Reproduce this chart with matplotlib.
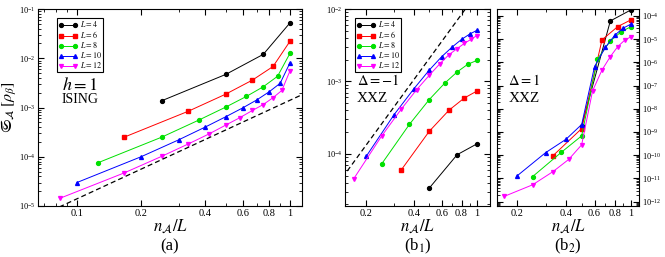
import matplotlib
matplotlib.use('Agg')
import matplotlib.pyplot as plt
from matplotlib.ticker import FixedLocator, FixedFormatter, LogLocator, NullFormatter
import numpy as np

plt.rcParams['font.family'] = ['Liberation Serif', 'DejaVu Serif']
plt.rcParams['mathtext.fontset'] = 'stix'

L_values = [4, 6, 8, 10, 12]
colors = ['black', 'red', '#00e000', 'blue', 'magenta']
markers = ['o', 's', 'o', '^', 'v']

# panel (a): Ising h=1, x = n/L (last points end at n = L)
ising = {
    4: [1.37e-3, 4.7e-3, 1.2e-2, 5.2e-2],
    6: [2.5e-4, 8.4e-4, 1.87e-3, 3.6e-3, 6.8e-3, 2.2e-2],
    8: [7.5e-5, 2.5e-4, 5.6e-4, 1.02e-3, 1.68e-3, 2.64e-3, 4.3e-3, 1.25e-2],
    10: [3.0e-5, 1.0e-4, 2.2e-4, 4.0e-4, 6.5e-4, 9.8e-4, 1.43e-3, 2.09e-3, 3.1e-3, 8.0e-3],
    12: [1.44e-5, 4.7e-5, 1.02e-4, 1.82e-4, 2.9e-4, 4.4e-4, 6.25e-4, 8.7e-4,
         1.15e-3, 1.58e-3, 2.22e-3, 5.5e-3],
}

# panel (b1): XXZ Delta=-1
xxz_m1 = {
    4: [3.35e-5, 9.7e-5, 1.37e-4],
    6: [6.0e-5, 2.04e-4, 4.0e-4, 5.9e-4, 7.35e-4],
    8: [7.2e-5, 2.55e-4, 5.6e-4, 9.4e-4, 1.35e-3, 1.72e-3, 1.95e-3],
    10: [9.2e-5, 3.47e-4, 7.9e-4, 1.43e-3, 2.2e-3, 3.0e-3, 3.8e-3, 4.5e-3, 5.07e-3],
    12: [4.5e-5, 1.75e-4, 4.15e-4, 7.7e-4, 1.21e-3, 1.75e-3, 2.34e-3, 2.83e-3,
         3.35e-3, 3.8e-3, 4.3e-3],
}

# panel (b2): XXZ Delta=1
xxz_p1 = {
    4: [1.8e-9, 6.1e-5, 1.8e-4],
    6: [9.5e-11, 1.4e-9, 9.3e-6, 3.5e-5, 6.7e-5],
    8: [1.2e-11, 1.33e-10, 6.8e-10, 1.4e-6, 8.3e-6, 2.1e-5, 3.4e-5],
    10: [1.26e-11, 1.28e-10, 4.8e-10, 2.1e-9, 6.6e-7, 4.5e-6, 1.5e-5, 3.0e-5, 4.4e-5],
    12: [1.66e-12, 5.3e-12, 1.96e-11, 6.6e-11, 2.8e-10, 5.9e-8, 4.7e-7, 1.77e-6,
         4.8e-6, 8.9e-6, 1.25e-5],
}

# dashed guide lines  c * x^p
guide_a = (1.4e-3, 2)
guide_b1 = (1.65e-2, 3)


def xs_for(L, vals):
    n = np.arange(L - len(vals) + 1, L + 1)
    return n / L


def style_axis(ax, xlim, ylim):
    ax.set_xscale('log')
    ax.set_yscale('log')
    ax.set_xlim(*xlim)
    ax.set_ylim(*ylim)
    ax.tick_params(which='both', direction='in', top=True, right=True, labelsize=7.5, pad=2)
    ax.tick_params(which='major', length=4)
    ax.tick_params(which='minor', length=2)
    ax.tick_params(axis='y', labelsize=6)
    for s in ax.spines.values():
        s.set_linewidth(0.8)
    ax.set_xlabel(r'$n_{\mathcal{A}}/L$', fontsize=12)
    ax.xaxis.set_label_coords(0.5, -0.06)
    ax.xaxis.label.set_va('top')


def x_ticks(ax, major, labels, minor):
    ax.xaxis.set_major_locator(FixedLocator(major))
    ax.xaxis.set_major_formatter(FixedFormatter(labels))
    ax.xaxis.set_minor_locator(FixedLocator(minor))
    ax.xaxis.set_minor_formatter(NullFormatter())


def draw(ax, data):
    for L, c, m in zip(L_values, colors, markers):
        vals = data[L]
        ax.plot(xs_for(L, vals), vals, color=c, marker=m, ms=2.8, lw=0.7, label=f'$L = {L}$')


def add_legend(ax, anchor):
    ax.legend(loc='upper left', bbox_to_anchor=anchor, fontsize=5.8, frameon=True,
              fancybox=False, edgecolor='black', framealpha=1, handlelength=2.3, numpoints=2,
              borderpad=0.2, labelspacing=0.0, handletextpad=0.3, borderaxespad=0.0,
              handleheight=0.6)
    ax.get_legend().get_frame().set_linewidth(0.8)


fig = plt.figure(figsize=(6.65, 2.57), dpi=100)
H = 257.0
W = 665.0
bottom = 1 - 206 / H
height = (206 - 9) / H
ax_a = fig.add_axes([38 / W, bottom, 264 / W, height])
ax_b1 = fig.add_axes([345 / W, bottom, 145 / W, height])
ax_b2 = fig.add_axes([497 / W, bottom, 142 / W, height])

# (a)
draw(ax_a, ising)
xg = np.array([0.06, 1.2])
ax_a.plot(xg, guide_a[0] * xg ** guide_a[1], color='black', lw=0.9, dashes=(4, 2.5))
style_axis(ax_a, (0.0656, 1.14), (1e-5, 1e-1))
x_ticks(ax_a, [0.1, 0.2, 0.4, 0.6, 0.8, 1.0], ['0.1', '0.2', '0.4', '0.6', '0.8', '1'],
        [0.07, 0.08, 0.09, 0.3, 0.5, 0.7, 0.9])
ax_a.set_ylabel(r'$\mathfrak{S}_{\mathcal{A}}\,[\rho_\beta]$', fontsize=11.5)
ax_a.yaxis.set_label_coords(-0.072, 0.5)
add_legend(ax_a, (0.072, 0.955))
ax_a.text(0.09, 0.614, r'$h=1$', transform=ax_a.transAxes, fontsize=13, va='center')
ax_a.text(0.09, 0.543, 'ISING', transform=ax_a.transAxes, fontsize=10, va='center')
fig.text(170 / W, 1 - 246 / H, '(a)', ha='center', va='center', fontsize=12)

# (b1)
draw(ax_b1, xxz_m1)
xg = np.array([0.1, 1.3])
ax_b1.plot(xg, guide_b1[0] * xg ** guide_b1[1], color='black', lw=0.9, dashes=(4, 2.5))
style_axis(ax_b1, (0.147, 1.21), (1.9e-5, 1e-2))
x_ticks(ax_b1, [0.2, 0.4, 0.6, 0.8, 1.0], ['0.2', '0.4', '0.6', '0.8', '1'], [0.3, 0.5, 0.7, 0.9])
add_legend(ax_b1, (0.07, 0.955))
ax_b1.text(0.08, 0.635, r'$\Delta=-1$', transform=ax_b1.transAxes, fontsize=10.5, va='center')
ax_b1.text(0.08, 0.548, 'XXZ', transform=ax_b1.transAxes, fontsize=11, va='center')
fig.text(418 / W, 1 - 246 / H, r'(b$_1$)', ha='center', va='center', fontsize=12)

# (b2)
draw(ax_b2, xxz_p1)
style_axis(ax_b2, (0.151, 1.125), (10 ** -12.19, 10 ** -3.7))
x_ticks(ax_b2, [0.2, 0.4, 0.6, 0.8, 1.0], ['0.2', '0.4', '0.6', '0.8', '1'], [0.3, 0.5, 0.7, 0.9])
ax_b2.yaxis.set_major_locator(LogLocator(base=10, numticks=20))
ax_b2.yaxis.set_minor_locator(LogLocator(base=10, subs=np.arange(2, 10) * 0.1, numticks=20))
ax_b2.yaxis.set_minor_formatter(NullFormatter())
ax_b2.tick_params(axis='y', labelleft=False, labelright=True)
ax_b2.text(0.08, 0.635, r'$\Delta=1$', transform=ax_b2.transAxes, fontsize=10.5, va='center')
ax_b2.text(0.08, 0.548, 'XXZ', transform=ax_b2.transAxes, fontsize=11, va='center')
fig.text(568 / W, 1 - 246 / H, r'(b$_2$)', ha='center', va='center', fontsize=12)

fig.savefig('out.png', dpi=100)
